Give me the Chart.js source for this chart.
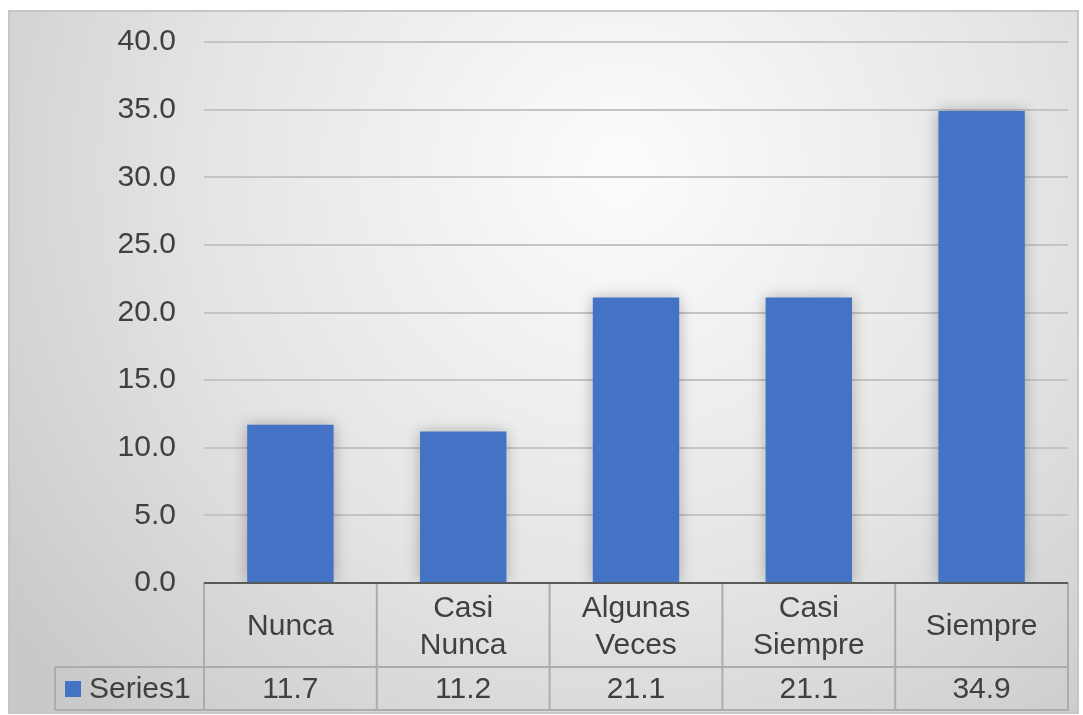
<!DOCTYPE html>
<html>
<head>
<meta charset="utf-8">
<script src="https://cdn.jsdelivr.net/npm/chart.js@4"></script>
<style>
  html, body { margin: 0; padding: 0; background: #fff; }
  #wrap { width: 1083px; height: 715px; }
</style>
</head>
<body>
<div id="wrap"><canvas id="chart" width="1083" height="715"></canvas></div>
<script>
const categories = [['Nunca'], ['Casi', 'Nunca'], ['Algunas', 'Veces'], ['Casi', 'Siempre'], ['Siempre']];
const seriesName = 'Series1';
const seriesValues = [11.7, 11.2, 21.1, 21.1, 34.9];
const yTicks = [0, 5, 10, 15, 20, 25, 30, 35, 40];

const barColor = '#4472C4';
const textColor = '#404040';
const fontFamily = '"Liberation Sans", Arial, sans-serif';
const fontSize = 30;

// frame + radial fill behind everything
const backgroundPlugin = {
  id: 'background',
  beforeDraw(chart) {
    const ctx = chart.ctx;
    ctx.save();
    const g = ctx.createRadialGradient(620, 170, 20, 620, 170, 760);
    g.addColorStop(0, '#fbfbfb');
    g.addColorStop(0.55, '#e4e4e4');
    g.addColorStop(1, '#c9c9c9');
    ctx.fillStyle = g;
    ctx.fillRect(9, 11, 1069, 702);
    ctx.strokeStyle = '#c6c6c6';
    ctx.lineWidth = 2;
    ctx.strokeRect(9, 11, 1069, 702);
    ctx.restore();
  }
};

// soft shadow under bars
const shadowPlugin = {
  id: 'barShadow',
  beforeDatasetsDraw(chart) {
    const ctx = chart.ctx;
    ctx.save();
    ctx.shadowColor = 'rgba(0,0,0,0.28)';
    ctx.shadowBlur = 14;
    ctx.shadowOffsetX = 0;
    ctx.shadowOffsetY = 0;
  },
  afterDatasetsDraw(chart) {
    chart.ctx.restore();
  }
};

// data table under the plot area
const tablePlugin = {
  id: 'dataTable',
  afterDraw(chart) {
    const ctx = chart.ctx;
    const area = chart.chartArea;
    const x = chart.scales.x;
    const n = categories.length;
    const step = (area.right - area.left) / n;
    const top = area.bottom;
    const mid = top + 84;
    const bottom = mid + 43;
    const legendLeft = 55;

    ctx.save();
    ctx.strokeStyle = '#acacac';
    ctx.lineWidth = 2;
    ctx.beginPath();
    ctx.moveTo(legendLeft, mid); ctx.lineTo(area.right, mid);
    ctx.moveTo(legendLeft, bottom); ctx.lineTo(area.right, bottom);
    ctx.moveTo(legendLeft, mid); ctx.lineTo(legendLeft, bottom);
    for (let i = 0; i <= n; i++) {
      const px = area.left + i * step;
      ctx.moveTo(px, top); ctx.lineTo(px, bottom);
    }
    ctx.stroke();

    // axis line at zero
    ctx.strokeStyle = '#595959';
    ctx.lineWidth = 2;
    ctx.beginPath();
    ctx.moveTo(area.left, top); ctx.lineTo(area.right, top);
    ctx.stroke();

    ctx.fillStyle = textColor;
    ctx.font = fontSize + 'px ' + fontFamily;
    ctx.textAlign = 'center';
    ctx.textBaseline = 'middle';
    const lineH = 37;
    categories.forEach((lines, i) => {
      const cx = x.getPixelForValue(i);
      const cy = (top + mid) / 2 + 2;
      const y0 = cy - (lines.length - 1) * lineH / 2;
      lines.forEach((t, j) => ctx.fillText(t, cx, y0 + j * lineH));
      ctx.fillText(seriesValues[i].toFixed(1), cx, (mid + bottom) / 2 + 1);
    });

    // legend key + series name
    ctx.fillStyle = barColor;
    ctx.fillRect(65, 681, 16, 16);
    ctx.fillStyle = textColor;
    ctx.textAlign = 'left';
    ctx.fillText(seriesName, 89, (mid + bottom) / 2 + 1);
    ctx.restore();
  }
};

new Chart(document.getElementById('chart').getContext('2d'), {
  type: 'bar',
  data: {
    labels: categories.map(c => c.join(' ')),
    datasets: [{
      label: seriesName,
      data: seriesValues,
      backgroundColor: barColor,
      borderWidth: 0,
      barPercentage: 0.5,
      categoryPercentage: 1.0
    }]
  },
  options: {
    responsive: false,
    animation: false,
    layout: {
      padding: { left: 0, top: 42, right: 15, bottom: 132 }
    },
    plugins: {
      legend: { display: false },
      tooltip: { enabled: false }
    },
    scales: {
      x: {
        display: false
      },
      y: {
        min: 0,
        max: 40,
        afterBuildTicks(scale) {
          scale.ticks = yTicks.map(v => ({ value: v }));
        },
        afterFit(scale) {
          scale.width = 204;
          scale.paddingTop = 0;
          scale.paddingBottom = 0;
        },
        border: { display: false },
        grid: {
          color: ctx => ctx.tick.value === 0 ? 'rgba(0,0,0,0)' : '#c4c4c4',
          lineWidth: 2,
          drawTicks: false
        },
        ticks: {
          padding: 28,
          color: textColor,
          font: { size: fontSize, family: fontFamily, lineHeight: 1 },
          callback: v => Number(v).toFixed(1)
        }
      }
    }
  },
  plugins: [backgroundPlugin, shadowPlugin, tablePlugin]
});
</script>
</body>
</html>
